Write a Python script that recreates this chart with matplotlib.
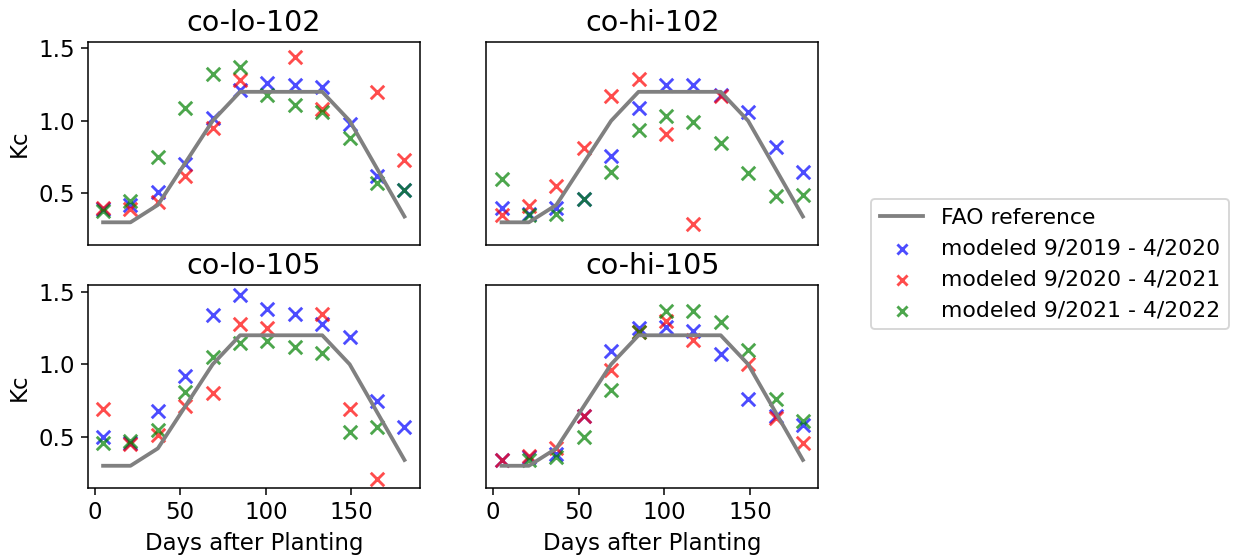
import numpy as np
import matplotlib
matplotlib.use("Agg")
import matplotlib.pyplot as plt

nan = np.nan

days = [5, 21, 37, 53, 69, 85, 101, 117, 133, 149, 165, 181]
fao_kc = [0.30, 0.30, 0.42, 0.71, 1.00, 1.20, 1.20, 1.20, 1.20, 1.00, 0.67, 0.34]

sites = ["co-lo-102", "co-hi-102", "co-lo-105", "co-hi-105"]
seasons = ["modeled 9/2019 - 4/2020", "modeled 9/2020 - 4/2021", "modeled 9/2021 - 4/2022"]

# Kc per site, one list per season
kc_lo102_2019 = [0.39, 0.42, 0.51, 0.70, 1.02, 1.21, 1.26, 1.25, 1.23, 0.98, 0.62, 0.52]
kc_lo102_2020 = [0.40, 0.39, 0.44, 0.62, 0.95, 1.28, nan, 1.44, 1.08, nan, 1.20, 0.73]
kc_lo102_2021 = [0.38, 0.45, 0.75, 1.09, 1.32, 1.37, 1.18, 1.11, 1.06, 0.88, 0.57, 0.52]

kc_hi102_2019 = [0.40, 0.36, 0.40, 0.46, 0.76, 1.09, 1.25, 1.25, 1.18, 1.06, 0.82, 0.65]
kc_hi102_2020 = [0.35, 0.41, 0.55, 0.81, 1.17, 1.29, 0.91, 0.29, 1.17, nan, nan, nan]
kc_hi102_2021 = [0.60, 0.35, 0.36, 0.46, 0.65, 0.94, 1.03, 0.99, 0.85, 0.64, 0.48, 0.49]

kc_lo105_2019 = [0.50, 0.46, 0.68, 0.92, 1.34, 1.48, 1.38, 1.35, 1.28, 1.19, 0.75, 0.57]
kc_lo105_2020 = [0.69, 0.45, 0.51, 0.71, 0.80, 1.28, 1.25, nan, 1.35, 0.69, 0.21, nan]
kc_lo105_2021 = [0.46, 0.47, 0.55, 0.81, 1.05, 1.15, 1.16, 1.12, 1.08, 0.53, 0.57, nan]

kc_hi105_2019 = [0.34, 0.36, 0.38, 0.64, 1.09, 1.25, 1.26, 1.23, 1.07, 0.76, 0.64, 0.58]
kc_hi105_2020 = [0.34, 0.37, 0.42, 0.64, 0.96, 1.22, 1.30, 1.17, nan, 1.00, 0.63, 0.46]
kc_hi105_2021 = [nan, 0.34, 0.36, 0.50, 0.82, 1.22, 1.37, 1.37, 1.29, 1.10, 0.76, 0.61]

site_data = [
    [kc_lo102_2019, kc_lo102_2020, kc_lo102_2021],
    [kc_hi102_2019, kc_hi102_2020, kc_hi102_2021],
    [kc_lo105_2019, kc_lo105_2020, kc_lo105_2021],
    [kc_hi105_2019, kc_hi105_2020, kc_hi105_2021],
]
colors = ["blue", "red", "green"]

plt.rcParams.update({'font.size': 12})

fig, axes = plt.subplots(2, 2, figsize=(9, 4.073), dpi=137, sharex=True, sharey=True)
plt.subplots_adjust(left=0.0714, right=0.6634, top=0.9247, bottom=0.1254,
                    wspace=0.202, hspace=0.202)

for ax, site, series in zip(axes.flat, sites, site_data):
    ax.plot(days, fao_kc, color="gray", linewidth=2, label="FAO reference")
    for vals, c, lab in zip(series, colors, seasons):
        ax.scatter(days, vals, marker="x", s=50, color=c, alpha=0.7, label=lab)
    ax.set_title(site, fontsize=15)

axes[0, 0].set_yticks([0.5, 1.0, 1.5])
axes[1, 0].set_xticks([0, 50, 100, 150])
for ax in axes[:, 0]:
    ax.set_ylabel("Kc")
for ax in axes[1, :]:
    ax.set_xlabel("Days after Planting")
# no ticks on the inner edges
for ax in axes[0, :]:
    ax.tick_params(axis='x', bottom=False, labelbottom=False)
for ax in axes[:, 1]:
    ax.tick_params(axis='y', left=False, labelleft=False)

handles, labels = axes[0, 0].get_legend_handles_labels()
fig.legend(handles, labels, loc="center left", bbox_to_anchor=(0.6975, 0.527),
           fontsize=11.5, markerscale=0.75)

plt.savefig("out.png", dpi=137)
